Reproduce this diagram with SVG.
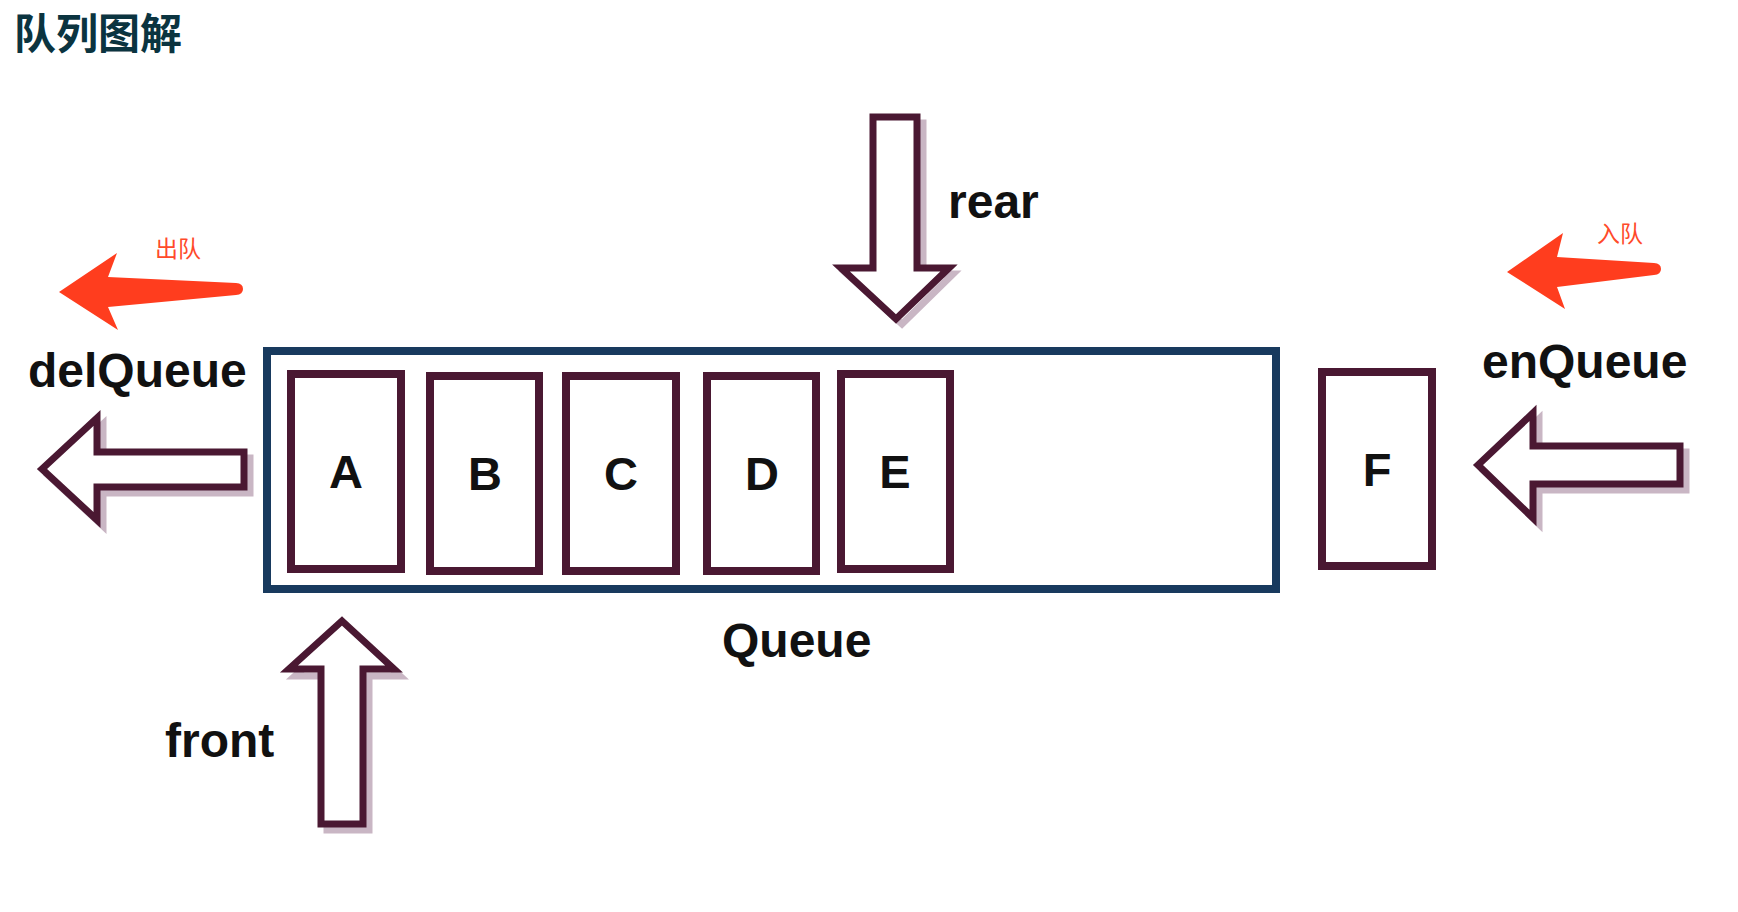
<svg xmlns="http://www.w3.org/2000/svg" width="1738" height="912" viewBox="0 0 1738 912">
<style>
.lbl{font-family:"Liberation Sans",Arial,sans-serif;font-weight:bold;font-size:48px;fill:#111}
.cell{fill:#fff;stroke:#4a1832;stroke-width:8}
.cl{font-family:"Liberation Sans",Arial,sans-serif;font-weight:bold;font-size:47px;fill:#111;text-anchor:middle}
.hollow{fill:#fff;stroke:#4a1832;stroke-width:7;stroke-linejoin:miter}
.shadow{fill:none;stroke:#c9b6c4;stroke-width:7}
.red{fill:#ff3d1e}
.cn{font-family:"Noto Sans CJK SC","Noto Sans",sans-serif;font-size:23px;fill:#ff4a2a}
</style>
<rect width="1738" height="912" fill="#fff"/>
<text x="14" y="49" font-family="Noto Sans CJK SC, sans-serif" font-weight="bold" font-size="42" fill="#0b3440">队列图解</text>

<g id="queue">
<rect x="267" y="351" width="1009" height="238" fill="#fff" stroke="#183a5e" stroke-width="8"/>
<text class="lbl" x="722" y="657">Queue</text>
</g>

<g id="node-A"><rect class="cell" x="291" y="374" width="110" height="195"/><text class="cl" x="346" y="488">A</text></g>
<g id="node-B"><rect class="cell" x="430" y="376" width="109" height="195"/><text class="cl" x="485" y="490">B</text></g>
<g id="node-C"><rect class="cell" x="566" y="376" width="110" height="195"/><text class="cl" x="621" y="490">C</text></g>
<g id="node-D"><rect class="cell" x="707" y="376" width="109" height="195"/><text class="cl" x="762" y="490">D</text></g>
<g id="node-E"><rect class="cell" x="841" y="374" width="109" height="195"/><text class="cl" x="895" y="488">E</text></g>
<g id="node-F"><rect class="cell" x="1322" y="372" width="110" height="194"/><text class="cl" x="1377" y="486">F</text></g>

<g id="connectors">
<g id="rear-arrow">
<path class="shadow" d="M879,123 L923,123 L923,274 L953,274 L902,324 L847,274 L879,274 Z"/>
<path class="hollow" d="M873,117 L917,117 L917,268 L949,268 L896,319 L841,268 L873,268 Z"/>
</g>
<g id="front-arrow">
<path class="shadow" d="M348,628 L400,676 L369,676 L369,830 L327,830 L327,676 L295,676 Z"/>
<path class="hollow" d="M342,621 L394,669 L363,669 L363,824 L321,824 L321,669 L289,669 Z"/>
</g>
<g id="del-arrow">
<path class="shadow" d="M48,475 L103,424 L103,458 L250,458 L250,493 L103,493 L103,526 Z"/>
<path class="hollow" d="M42,469 L97,418 L97,452 L244,452 L244,487 L97,487 L97,520 Z"/>
</g>
<g id="en-arrow">
<path class="shadow" d="M1484,471 L1539,419 L1539,452 L1686,452 L1686,490 L1539,490 L1539,524 Z"/>
<path class="hollow" d="M1478,465 L1533,413 L1533,446 L1680,446 L1680,484 L1533,484 L1533,518 Z"/>
</g>
<path class="red" d="M59,292 L117,253 L108,277 L236,283 Q243,283.5 243,289 Q243,294.5 236,295 L108,307 L118,330 Z"/>
<path class="red" d="M1507,272 L1563,233 L1557,257 L1654,263 Q1661,263.5 1661,269 Q1661,274.5 1654,275 L1557,287 L1565,309 Z"/>
</g>

<text class="lbl" x="28" y="387">delQueue</text>
<text class="lbl" x="1482" y="378">enQueue</text>
<text class="lbl" x="948" y="218">rear</text>
<text class="lbl" x="165" y="757">front</text>
<text class="cn" x="155" y="257">出队</text>
<text class="cn" x="1597" y="242">入队</text>
</svg>
